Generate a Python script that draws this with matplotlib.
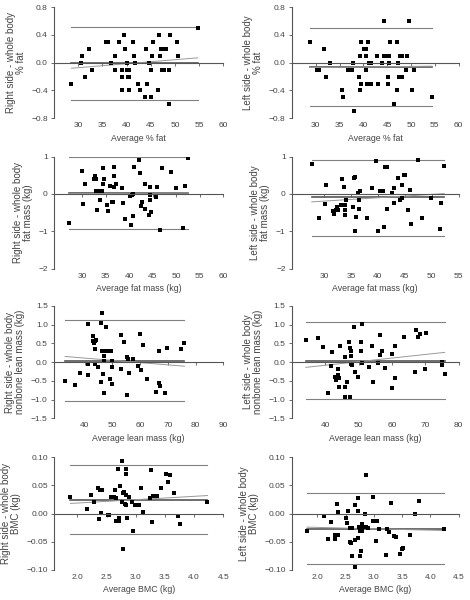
import numpy as np
import matplotlib.pyplot as plt

plt.rcParams['font.family'] = ['Liberation Sans', 'DejaVu Sans']

# % fat, right side
fat_r_x = [28.6, 30.6, 30.7, 31.5, 32.3, 32.9, 35.7, 36.1, 36.8, 37.6, 37.7, 38.5, 39.0, 39.1, 39.1,
           39.4, 39.6, 40.0, 40.0, 40.3, 40.5, 40.6, 40.5, 41.3, 41.6, 41.7, 42.4, 42.8, 43.8, 44.0,
           44.2, 44.6, 45.1, 45.1, 45.3, 45.4, 46.5, 46.8, 47.0, 47.2, 47.4, 47.6, 47.8, 48.1, 48.8,
           49.0, 48.8, 50.5, 50.6, 54.7]
fat_r_y = [-0.3, 0.0, 0.1, -0.2, 0.2, -0.1, 0.3, 0.3, 0.0, 0.1, -0.1, 0.3, -0.1, -0.2, -0.4,
           0.4, 0.2, 0.0, -0.1, -0.2, -0.1, -0.2, -0.4, 0.3, 0.1, 0.0, -0.3, -0.4, -0.5, 0.2,
           -0.3, 0.0, -0.1, -0.5, 0.1, 0.3, -0.4, 0.4, 0.1, 0.2, -0.1, 0.2, -0.1, 0.2, -0.1,
           0.4, -0.6, 0.3, 0.1, 0.5]
# % fat, left side
fat_l_x = [28.9, 30.3, 30.6, 31.7, 32.1, 33.1, 35.5, 35.7, 36.8, 37.6, 37.8, 38.1, 39.1, 39.2, 39.3,
           39.5, 39.5, 40.2, 40.5, 40.5, 40.6, 40.7, 40.9, 41.2, 41.6, 41.6, 42.8, 43.0, 43.9, 44.4,
           44.4, 44.9, 45.2, 45.2, 45.3, 45.4, 45.6, 46.4, 47.0, 47.0, 47.2, 47.4, 47.7, 47.8, 48.1,
           48.1, 48.9, 49.1, 49.6, 50.3, 50.7, 54.4]
fat_l_y = [0.3, -0.1, -0.1, 0.2, -0.2, 0.0, -0.4, -0.5, -0.1, -0.1, 0.0, -0.7, -0.2, -0.4, 0.1,
           0.3, -0.3, 0.2, 0.2, 0.1, -0.1, -0.3, 0.3, 0.0, 0.0, -0.3, 0.1, -0.3, 0.0, 0.6,
           0.1, 0.1, -0.2, -0.3, 0.0, 0.1, 0.3, -0.6, -0.4, 0.3, 0.0, -0.2, 0.1, -0.2, 0.1,
           -0.2, -0.1, 0.1, 0.6, -0.4, -0.1, -0.5]

# fat mass, right side
fm_r_x = [27.1, 29.9, 30.2, 30.6, 32.5, 32.8, 32.9, 33.0, 33.2, 33.5, 33.7, 34.2, 34.4, 34.5, 34.6,
          35.2, 35.5, 35.8, 36.3, 36.6, 36.8, 36.8, 36.7, 37.1, 38.5, 38.7, 39.0, 40.1, 40.4, 40.5,
          40.9, 40.9, 41.1, 42.1, 42.2, 42.5, 42.8, 43.3, 43.4, 44.3, 44.4, 44.4, 44.5, 44.6, 45.6,
          46.0, 46.5, 47.0, 48.9, 49.9, 51.5, 51.9, 52.6]
fm_r_y = [-0.77, 0.61, -0.26, 0.28, 0.40, 0.47, 0.39, 0.08, -0.42, 0.09, -0.17, 0.07, 0.69, 0.28, 0.41,
          -0.30, -0.46, 0.21, -0.21, -0.21, 0.48, 0.72, 0.20, 0.28, 0.17, -0.25, -0.67, -0.06, -0.84, -0.03,
          0.00, -0.59, 0.71, 0.91, 0.56, -0.33, -0.21, 0.26, -0.39, -0.57, 0.19, -0.16, -0.03, -0.49, -0.08,
          0.20, -0.95, 0.69, 0.58, 0.17, -0.92, 0.21, 0.96]
# fat mass, left side
fm_l_x = [27.7, 29.1, 30.3, 30.1, 31.7, 31.9, 32.2, 32.4, 32.6, 33.2, 33.4, 33.7, 33.8, 33.9, 33.9,
          34.0, 35.4, 35.5, 35.8, 35.8, 36.0, 36.2, 36.4, 36.5, 36.6, 38.0, 38.8, 39.6, 40.0, 40.3,
          40.9, 41.1, 41.3, 41.6, 41.6, 42.6, 42.9, 43.0, 43.7, 44.1, 44.4, 44.5, 44.9, 45.1, 45.6,
          45.9, 46.2, 47.4, 48.2, 49.8, 51.7, 51.6, 52.3]
fm_l_y = [0.79, -0.63, 0.23, -0.26, -0.46, -0.53, -0.44, -0.35, -0.43, -0.30, 0.39, 0.19, -0.43, -0.30, -0.55,
          -0.16, -0.34, 0.43, 0.46, -0.99, -0.62, 0.04, -0.17, -0.39, 0.07, -0.63, 0.17, 0.87, -0.99, 0.09,
          0.09, -0.89, 0.72, 0.72, -0.40, 0.04, 0.16, -0.25, 0.42, -0.17, 0.25, -0.10, 0.52, 0.52, -0.42,
          0.11, -0.79, 0.91, -0.64, -0.12, -0.25, -0.94, 0.74]

# nonbone lean mass, right side
lm_r_x = [33.0, 36.6, 38.4, 41.2, 41.2, 41.3, 42.9, 43.1, 43.5, 43.8, 43.9, 44.1, 43.8, 45.0, 45.8,
          45.9, 46.3, 46.4, 46.5, 46.9, 47.0, 47.0, 47.1, 47.7, 47.9, 48.4, 48.8, 49.5, 49.3, 49.8,
          49.9, 50.0, 53.1, 53.3, 54.2, 55.3, 55.4, 55.7, 56.2, 57.4, 59.4, 60.1, 60.2, 60.9, 62.5,
          65.7, 66.7, 66.9, 67.1, 69.0, 69.7, 74.9, 76.0]
lm_r_y = [-0.51, -0.62, -0.30, 1.03, -0.04, -0.34, 0.70, 0.56, 0.52, 0.36, 0.57, 0.59, -0.06, -0.12, -0.52,
          1.04, 1.30, 0.29, -0.33, 0.29, 0.16, 0.02, -0.83, 0.95, 0.29, 0.29, 0.29, 0.29, -0.46, -0.59,
          0.02, -0.12, 0.73, -0.19, 0.55, -0.88, 0.13, 0.07, -0.28, 0.09, -0.10, 0.76, -0.22, 0.47, -0.46,
          -0.80, 0.29, -0.56, -0.63, -0.82, 0.38, 0.36, 0.52]
# nonbone lean mass, left side
lm_l_x = [34.2, 37.8, 39.4, 40.8, 42.1, 41.8, 42.8, 43.1, 43.5, 43.7, 43.9, 44.1, 44.0, 44.5, 45.8,
          45.8, 46.0, 46.5, 47.0, 47.4, 47.6, 47.4, 47.8, 47.7, 48.1, 48.5, 48.9, 49.8, 50.6, 50.7,
          51.1, 50.9, 53.2, 54.1, 54.2, 55.7, 56.4, 56.5, 57.1, 57.9, 59.9, 60.0, 60.9, 61.0, 63.6,
          66.9, 67.1, 67.7, 68.4, 69.9, 70.1, 74.9, 75.1, 75.8]
lm_l_y = [0.59, 0.64, 0.40, -0.82, 0.26, -0.10, -0.41, -0.48, -0.40, -0.19, -0.34, -0.42, -0.67, 0.43, 0.14,
          -0.93, -0.67, -0.53, 0.55, 0.37, 0.30, -0.93, 0.15, -0.06, -0.08, 0.94, -0.27, -0.41, 0.54, 0.29,
          1.02, -0.03, -0.13, 0.43, -0.54, -0.03, 0.20, 0.72, 0.31, -0.15, -0.68, 0.22, -0.43, 0.42, 0.66,
          -0.26, 0.85, 0.68, 0.74, -0.18, 0.77, -0.07, 0.01, -0.32]

# BMC, right side
bmc_r_x = [1.88, 2.16, 2.24, 2.29, 2.36, 2.37, 2.38, 2.40, 2.43, 2.53, 2.55, 2.57, 2.62, 2.64, 2.66,
           2.66, 2.71, 2.70, 2.72, 2.73, 2.76, 2.77, 2.78, 2.79, 2.80, 2.81, 2.83, 2.84, 2.84, 2.84,
           2.85, 2.88, 2.94, 2.96, 2.98, 3.01, 3.05, 3.09, 3.12, 3.25, 3.27, 3.28, 3.30, 3.36, 3.43,
           3.52, 3.56, 3.59, 3.66, 3.72, 3.76, 4.23]
bmc_r_y = [0.030, 0.008, 0.033, 0.020, 0.045, -0.009, 0.041, 0.001, 0.042, -0.003, -0.003, 0.030, 0.029, 0.041, 0.028,
           -0.013, -0.013, 0.079, -0.007, 0.049, 0.094, 0.020, 0.036, -0.063, 0.039, 0.017, 0.033, 0.015, 0.079, 0.070,
           -0.008, 0.029, 0.020, -0.031, 0.015, 0.015, 0.015, 0.045, 0.002, 0.028, 0.078, -0.015, 0.031, 0.031, 0.046,
           0.070, 0.056, 0.069, 0.037, -0.004, -0.019, 0.021]
# BMC, left side
bmc_l_x = [1.82, 2.12, 2.18, 2.24, 2.31, 2.31, 2.35, 2.37, 2.37, 2.51, 2.52, 2.54, 2.57, 2.58, 2.59,
           2.61, 2.61, 2.66, 2.66, 2.67, 2.72, 2.72, 2.73, 2.72, 2.75, 2.76, 2.77, 2.79, 2.79, 2.80,
           2.84, 2.86, 2.86, 2.89, 2.98, 2.99, 3.02, 3.03, 3.06, 3.09, 3.21, 3.23, 3.26, 3.30, 3.35,
           3.39, 3.46, 3.50, 3.52, 3.63, 3.73, 3.79, 4.24]
bmc_l_y = [-0.030, -0.005, -0.045, -0.015, -0.038, -0.045, 0.017, -0.038, 0.003, -0.007, -0.017, 0.005, -0.025, -0.051, -0.053,
           -0.025, -0.076, 0.016, -0.094, -0.046, 0.005, 0.028, -0.023, -0.043, -0.030, -0.076, -0.067, -0.019, -0.030, -0.023,
           0.000, 0.068, -0.024, -0.025, -0.013, 0.030, -0.013, -0.048, -0.013, -0.027, -0.074, -0.027, -0.033, 0.019, -0.039,
           -0.042, -0.071, -0.063, -0.061, -0.038, -0.001, 0.022, -0.028]

# mean difference, limits of agreement, regression line ends
bias = [-0.01, -0.06, 0.02, -0.09, 0.04, 0.04, 0.024, -0.027]
upper = [0.52, 0.50, 0.98, 0.92, 1.13, 1.07, 0.086, 0.037]
lower = [-0.54, -0.62, -0.94, -1.11, -1.03, -0.99, -0.037, -0.089]
reg_start = [-0.08, -0.07, 0.01, -0.21, 0.15, -0.14, 0.018, -0.024]
reg_end = [0.07, -0.05, 0.03, 0.01, -0.11, 0.26, 0.032, -0.030]

xs = [fat_r_x, fat_l_x, fm_r_x, fm_l_x, lm_r_x, lm_l_x, bmc_r_x, bmc_l_x]
ys = [fat_r_y, fat_l_y, fm_r_y, fm_l_y, lm_r_y, lm_l_y, bmc_r_y, bmc_l_y]

ylabels = ['Right side - whole body\n% fat', 'Left side - whole body\n% fat',
           'Right side - whole body\nfat mass (kg)', 'Left side - whole body\nfat mass (kg)',
           'Right side - whole body\nnonbone lean mass (kg)', 'Left side - whole body\nnonbone lean mass (kg)',
           'Right side - whole body\nBMC (kg)', 'Left side - whole body\nBMC (kg)']
xlabels = ['Average % fat', 'Average % fat', 'Average fat mass (kg)', 'Average fat mass (kg)',
           'Average lean mass (kg)', 'Average lean mass (kg)', 'Average BMC (kg)', 'Average BMC (kg)']

xticks = [[30, 35, 40, 45, 50, 55, 60], [30, 35, 40, 45, 50, 55, 60],
          [30, 35, 40, 45, 50, 55, 60], [30, 35, 40, 45, 50, 55],
          [40, 50, 60, 70, 80, 90], [40, 50, 60, 70, 80],
          [2.0, 2.5, 3.0, 3.5, 4.0, 4.5], [2.0, 2.5, 3.0, 3.5, 4.0, 4.5]]
xlims = [(25, 60), (25, 60), (24, 60), (24, 55), (29, 90), (30, 80), (1.6, 4.5), (1.55, 4.5)]
yticks_fat = [-0.8, -0.4, 0.0, 0.4, 0.8]
yticks_fm = [-2, -1, 0, 1]
yticks_lm = [-1.5, -1.0, -0.5, 0.0, 0.5, 1.0, 1.5]
yticks_bmc = [-0.10, -0.05, 0.0, 0.05, 0.10]
yticks = [yticks_fat, yticks_fat, yticks_fm, yticks_fm, yticks_lm, yticks_lm, yticks_bmc, yticks_bmc]
yfmt = ['{:.1f}', '{:.1f}', '{:.0f}', '{:.0f}', '{:.1f}', '{:.1f}', '{:.2f}', '{:.2f}']
xfmt = ['{:.0f}', '{:.0f}', '{:.0f}', '{:.0f}', '{:.0f}', '{:.0f}', '{:.1f}', '{:.1f}']

rows = [(0.803, 0.185), (0.552, 0.187), (0.303, 0.187), (0.050, 0.188)]
cols = [(0.115, 0.36), (0.621, 0.355)]

txt = '#444444'
fig = plt.figure(figsize=(4.7, 6), dpi=100)

for i in range(8):
    b, h = rows[i // 2]
    l, w = cols[i % 2]
    ax = fig.add_axes([l, b, w, h])
    x = np.array(xs[i])
    y = np.array(ys[i])
    x0, x1 = x.min(), x.max()

    ax.plot([x0, x1], [upper[i], upper[i]], color='#808080', lw=0.8)
    ax.plot([x0, x1], [lower[i], lower[i]], color='#808080', lw=0.8)
    ax.plot([x0, x1], [bias[i], bias[i]], color='#555555', lw=1.2)
    ax.plot([x0, x1], [reg_start[i], reg_end[i]], color='#999999', lw=0.7)
    ax.plot(x, y, 's', color='black', ms=2.6, mew=0)

    ax.set_xlim(*xlims[i])
    ylo, yhi = yticks[i][0], yticks[i][-1]
    ax.set_ylim(ylo, yhi)

    for s in ['top', 'right']:
        ax.spines[s].set_visible(False)
    ax.spines['left'].set_color('#555555')
    ax.spines['left'].set_linewidth(0.8)
    ax.spines['bottom'].set_position(('data', 0))
    ax.spines['bottom'].set_color('#555555')
    ax.spines['bottom'].set_linewidth(0.8)

    ax.set_xticks(xticks[i])
    ax.tick_params(axis='x', direction='out', length=2.5, width=0.6, color='#555555', labelbottom=False)
    ax.set_yticks(yticks[i])
    ax.set_yticklabels([yfmt[i].format(v).replace('-', '\u2212') for v in yticks[i]])
    ax.tick_params(axis='y', direction='out', length=2.5, width=0.6, color='#555555',
                   labelsize=6, labelcolor=txt, pad=2)

    sec = ax.secondary_xaxis('bottom')
    sec.spines['bottom'].set_visible(False)
    sec.set_xticks(xticks[i])
    sec.set_xticklabels([xfmt[i].format(v) for v in xticks[i]])
    sec.tick_params(axis='x', length=0, labelsize=6, labelcolor=txt, pad=3)
    sec.set_xlabel(xlabels[i], fontsize=6.3, color=txt, labelpad=3)

    ax.set_ylabel(ylabels[i], fontsize=7, color=txt, labelpad=4, linespacing=1.0)

fig.savefig('out.png', dpi=100)
